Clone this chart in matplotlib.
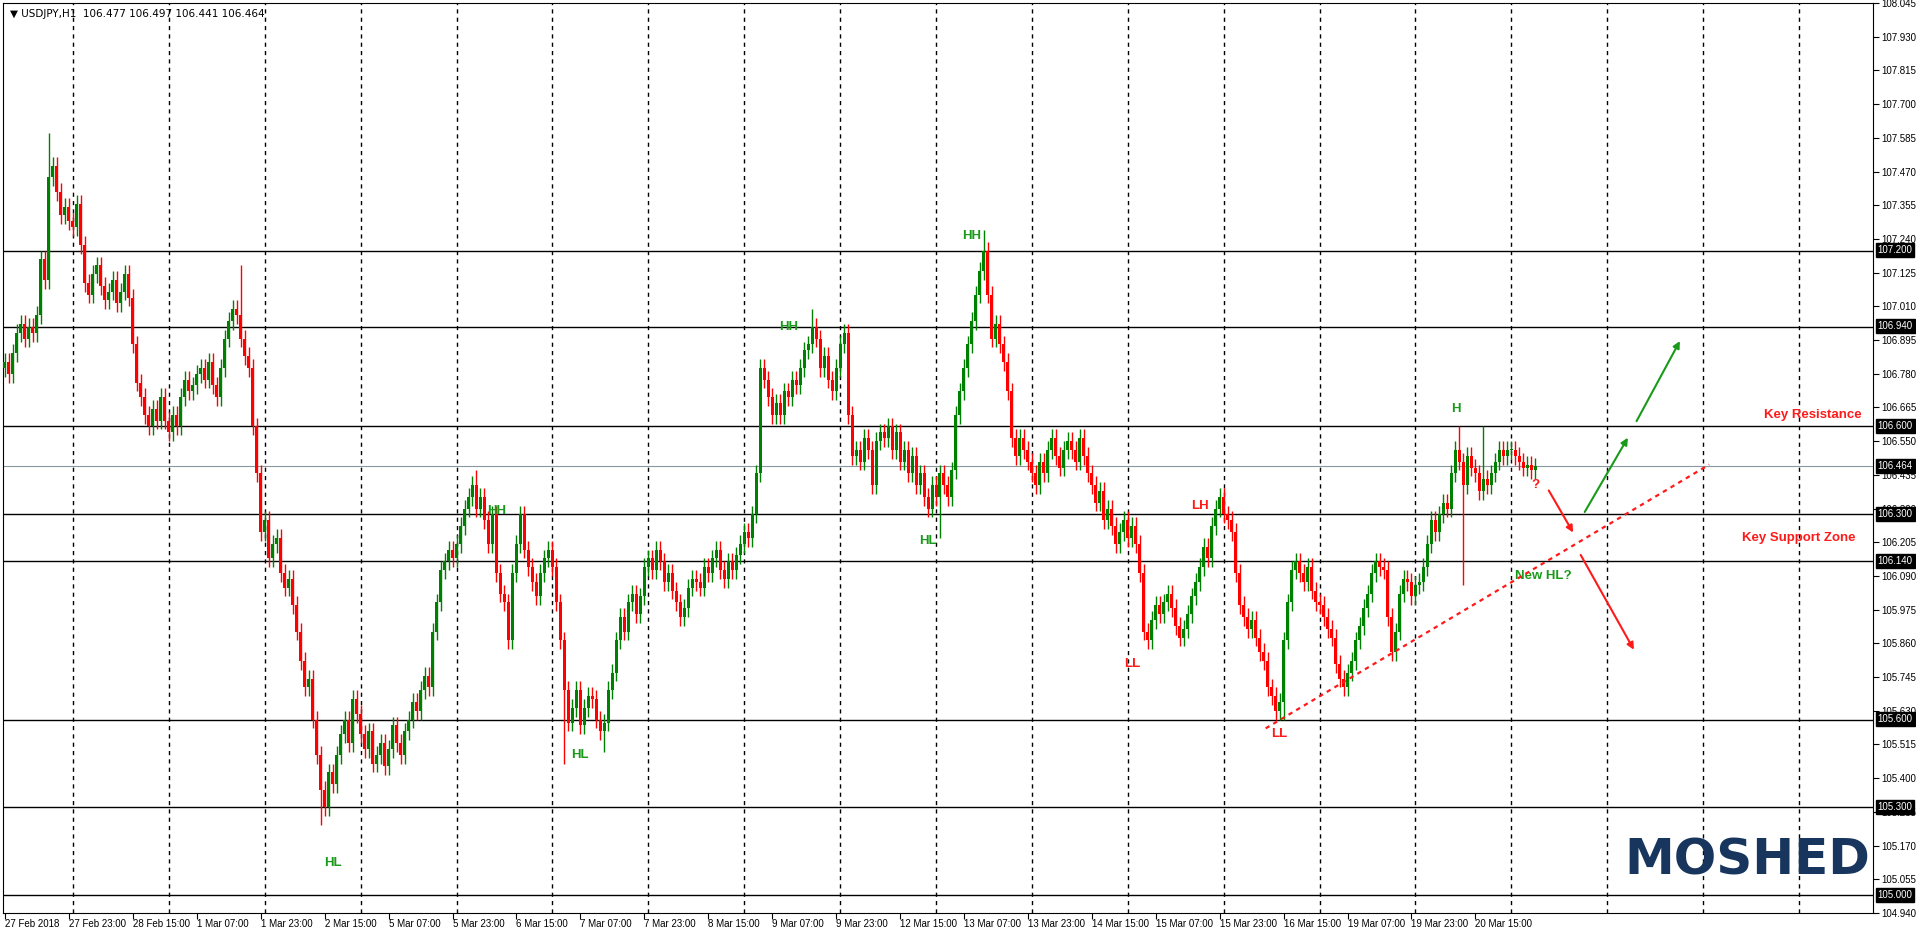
import matplotlib
matplotlib.use("Agg")
import matplotlib.pyplot as plt
import numpy as np

plt.rcParams['font.family'] = ['Liberation Sans', 'DejaVu Sans']

closes = [
106.82,106.78,106.85,106.92,106.95,106.90,106.94,106.92,106.98,107.17,107.10,107.45,107.49,107.40,107.32,107.35,
107.30,107.28,107.36,107.22,107.09,107.05,107.12,107.15,107.08,107.03,107.06,107.10,107.02,107.06,107.12,107.04,
106.88,106.75,106.70,106.64,106.60,106.66,106.62,106.70,106.62,106.58,106.64,106.60,106.70,106.76,106.72,106.74,
106.78,106.80,106.76,106.82,106.74,106.70,106.80,106.90,106.96,107.00,106.98,106.90,106.84,106.80,106.60,
106.44,106.24,106.28,106.15,106.20,106.22,106.10,106.05,106.08,105.99,105.90,105.80,105.71,105.74,105.60,105.48,
105.36,105.30,105.42,105.38,105.48,105.55,105.60,105.52,105.67,105.62,105.55,105.50,105.56,105.45,105.48,105.52,
105.44,105.50,105.58,105.52,105.48,105.56,105.60,105.66,105.63,105.70,105.75,105.71,105.90,106.00,106.11,
106.14,106.18,106.15,106.20,106.26,106.32,106.36,106.40,106.32,106.36,106.28,106.20,106.30,106.10,106.03,106.00,
105.87,106.10,106.20,106.30,106.18,106.12,106.07,106.02,106.10,106.15,106.18,106.12,106.00,105.87,105.70,105.59,
105.64,105.70,105.58,105.64,105.68,105.67,105.60,105.56,105.59,105.70,105.76,105.87,105.95,105.90,106.00,
106.03,105.96,106.02,106.12,106.15,106.11,106.18,106.14,106.07,106.10,106.04,106.00,105.95,105.98,106.05,106.08,
106.07,106.05,106.12,106.10,106.15,106.18,106.11,106.08,106.14,106.11,106.16,106.20,106.24,106.22,106.30,106.44,
106.80,106.76,106.70,106.64,106.68,106.64,106.72,106.70,106.76,106.74,106.80,106.86,106.88,106.94,106.90,
106.80,106.84,106.76,106.72,106.80,106.88,106.92,106.64,106.50,106.52,106.48,106.56,106.52,106.40,106.55,106.58,
106.56,106.60,106.52,106.58,106.48,106.52,106.44,106.50,106.40,106.44,106.36,106.32,106.40,106.36,106.44,106.40,
106.36,106.45,106.64,106.72,106.80,106.88,106.96,107.05,107.13,107.20,107.05,106.90,106.95,106.88,106.82,
106.72,106.56,106.50,106.56,106.52,106.48,106.44,106.40,106.48,106.44,106.52,106.56,106.50,106.46,106.52,106.55,
106.52,106.48,106.56,106.50,106.44,106.40,106.34,106.38,106.28,106.32,106.26,106.20,106.24,106.28,106.22,106.26,
106.20,106.10,105.90,105.87,105.94,105.99,105.96,106.00,106.03,105.98,105.92,105.88,105.91,105.96,106.02,
106.07,106.12,106.19,106.15,106.26,106.32,106.36,106.30,106.28,106.24,106.10,105.99,105.95,105.91,105.94,105.88,
105.83,105.80,105.71,105.68,105.63,105.66,105.87,106.00,106.11,106.14,106.10,106.07,106.12,106.04,106.00,105.99,
105.95,105.91,105.88,105.79,105.74,105.71,105.76,105.80,105.87,105.92,105.98,106.03,106.10,106.14,106.12,
106.11,105.95,105.83,105.90,106.03,106.08,106.07,106.02,106.06,106.07,106.12,106.20,106.28,106.24,106.30,106.34,
106.32,106.44,106.52,106.48,106.40,106.50,106.46,106.44,106.38,106.42,106.40,106.44,106.48,106.52,106.50,106.52,
106.52,106.50,106.48,106.46,106.47,106.45,106.464]
first_open = 106.80
wick = 0.03
spike_highs = {11: 107.60, 59: 107.15, 118: 106.45, 202: 107.00, 245: 107.27, 364: 106.60, 370: 106.60}
spike_lows = {79: 105.24, 140: 105.45, 150: 105.49, 234: 106.22, 320: 105.60, 365: 106.06}

levels = [107.2, 106.94, 106.6, 106.3, 106.14, 105.6, 105.3, 105.0]
last_price = 106.464
date_labels = ["27 Feb 2018","27 Feb 23:00","28 Feb 15:00","1 Mar 07:00","1 Mar 23:00","2 Mar 15:00",
 "5 Mar 07:00","5 Mar 23:00","6 Mar 15:00","7 Mar 07:00","7 Mar 23:00","8 Mar 15:00","9 Mar 07:00",
 "9 Mar 23:00","12 Mar 15:00","13 Mar 07:00","13 Mar 23:00","14 Mar 15:00","15 Mar 07:00","15 Mar 23:00",
 "16 Mar 15:00","19 Mar 07:00","19 Mar 23:00","20 Mar 15:00"]

c = np.array(closes)
o = np.concatenate([[first_open], c[:-1]])
h = np.maximum(o, c) + wick
l = np.minimum(o, c) - wick
for k, v in spike_highs.items(): h[k] = max(h[k], v)
for k, v in spike_lows.items(): l[k] = min(l[k], v)
x = np.arange(len(c))
up = c >= o
cols = np.where(up, "#008000", "#ff0000")

fig = plt.figure(figsize=(19.16, 9.34), dpi=100)
ax = fig.add_axes([3/1916, 21/934, 1870/1916, 910/934])
ymin, ymax = 104.94, 108.04
ax.set_xlim(-0.5, 467.5)
ax.set_ylim(ymin, ymax)

for g in range(17, 468, 24):
    ax.axvline(g, color="black", ls=(0, (3, 3)), lw=1, zorder=0)
for lv in levels:
    ax.axhline(lv, color="black", lw=1, zorder=1)
ax.axhline(last_price, color="#8a96a0", lw=0.8, zorder=1)

ax.vlines(x, l, h, colors=cols, lw=1, zorder=2)
ax.bar(x, np.maximum(np.abs(c - o), 0.004), bottom=np.minimum(o, c), width=0.75, color=cols, zorder=3)

ax.yaxis.tick_right()
ticks = [round(104.94 + 0.115 * k, 3) for k in range(28)]
ax.set_yticks(ticks)
ax.set_yticklabels([f"{t:.3f}" for t in ticks], fontsize=7)
ax.tick_params(axis="y", length=4, pad=2)
for lv in levels + [last_price]:
    ax.text(1.0025, (lv - ymin) / (ymax - ymin), f"{lv:.3f}", transform=ax.transAxes, fontsize=7,
            color="white", va="center", ha="left",
            bbox=dict(boxstyle="square,pad=0.2", fc="black", ec="black"), clip_on=False, zorder=10)

ax.set_xticks([16 * i for i in range(len(date_labels))])
ax.set_xticklabels([])
ax.tick_params(axis="x", length=4)
for i, lab in enumerate(date_labels):
    ax.text(16 * i, ymin - 0.02, lab, fontsize=7, ha="left", va="top", clip_on=False)

ax.text(0.004, 0.993, "\u25bc USDJPY,H1  106.477 106.497 106.441 106.464", transform=ax.transAxes,
        fontsize=7.5, va="top", ha="left", family=["DejaVu Sans"])

green, red = "#1a9a1a", "#ff1a1a"
ann = [("HH", 242, 107.25, green), ("HH", 196, 106.94, green), ("HH", 123, 106.31, green),
       ("HL", 82, 105.11, green), ("HL", 144, 105.48, green), ("HL", 231, 106.21, green),
       ("LH", 299, 106.33, red), ("LL", 282, 105.79, red), ("LL", 319, 105.55, red),
       ("H", 363, 106.66, green), ("?", 383, 106.40, red), ("New HL?", 385, 106.09, green)]
for t, bx, py, col in ann:
    ax.text(bx, py, t, color=col, fontsize=9.5, fontweight="bold", ha="center", va="center")
ax.text(452.5, 106.64, "Key Resistance", color=red, fontsize=9.5, fontweight="bold", ha="center", va="center")
ax.text(449, 106.22, "Key Support Zone", color=red, fontsize=9.5, fontweight="bold", ha="center", va="center")

ax.plot([315.5, 426.5], [105.57, 106.47], color=red, ls=(0, (2, 2)), lw=1.6, zorder=4)
arrows = [((386, 106.39), (392.8, 106.23), red), ((395, 106.30), (406.5, 106.57), green),
          ((408, 106.61), (419.5, 106.90), green), ((394, 106.17), (408, 105.83), red)]
for (x0, y0), (x1, y1), col in arrows:
    ax.annotate("", xy=(x1, y1), xytext=(x0, y0),
                arrowprops=dict(arrowstyle="-|>", color=col, lw=1.5, mutation_scale=10))

ax.text(436, 105.12, "MOSHED", color="#17355d", fontsize=36, fontweight="bold",
        ha="center", va="center", family=["DejaVu Sans"])

fig.savefig("out.png", dpi=100)
